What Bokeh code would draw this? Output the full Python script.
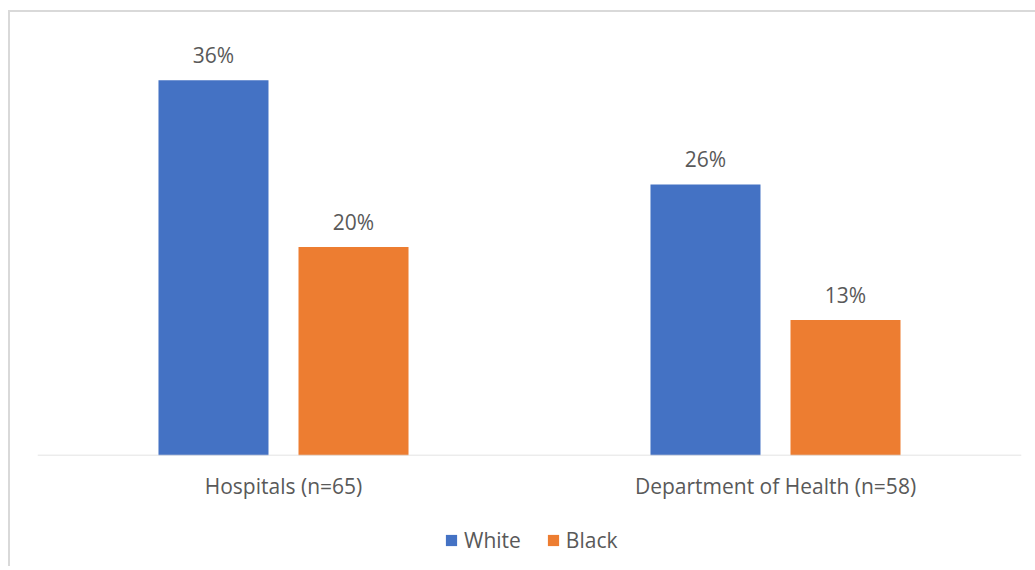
from bokeh.plotting import figure
from bokeh.layouts import column
from bokeh.models import (ColumnDataSource, FactorRange, Range1d, Legend,
                          LegendItem, Span)
from bokeh.transform import dodge
from bokeh.embed import file_html
from bokeh.resources import INLINE
from bokeh.core.properties import value

# Share of respondents by group
categories = ["Hospitals (n=65)", "Department of Health (n=58)"]
white = [36, 26]
black = [20, 13]
series_names = ["White", "Black"]
colors = ["#4472C4", "#ED7D31"]

FONT = "Open Sans"
TEXT_COLOR = "#595959"
GRID_GRAY = "#D9D9D9"
FS = "21px"

src = ColumnDataSource(dict(
    cat=categories,
    white=white,
    black=black,
    white_lbl=[f"{v}%" for v in white],
    black_lbl=[f"{v}%" for v in black],
))

p = figure(width=1025, height=500,
           x_range=FactorRange(*categories, range_padding=0),
           y_range=Range1d(0, 40),
           output_backend="svg", toolbar_location=None,
           min_border_left=27, min_border_right=14,
           min_border_top=26, min_border_bottom=57)

p.outline_line_color = None
p.grid.visible = False
p.yaxis.visible = False

bar_w = 0.2236
off = 0.1423

r_white = p.vbar(x=dodge("cat", -off, range=p.x_range), top="white", width=bar_w,
                 source=src, fill_color=colors[0], line_color=None)
r_black = p.vbar(x=dodge("cat", off, range=p.x_range), top="black", width=bar_w,
                 source=src, fill_color=colors[1], line_color=None)

for key, o in (("white", -off), ("black", off)):
    p.text(x=dodge("cat", o, range=p.x_range), y=key, text=f"{key}_lbl", source=src,
           text_align="center", text_baseline="alphabetic", y_offset=-25,
           text_font=value(FONT), text_font_size=FS, text_color=TEXT_COLOR)

# category baseline, limited to the plotting area
p.add_layout(Span(location=0, dimension="width", line_color=GRID_GRAY,
                  line_width=1.5))

ax = p.xaxis[0]
ax.axis_line_color = None
ax.major_tick_line_color = None
ax.minor_tick_line_color = None
ax.major_label_text_font = FONT
ax.major_label_text_font_size = FS
ax.major_label_text_color = TEXT_COLOR
ax.major_label_standoff = 10

# legend strip underneath the bars; its swatch renderers sit outside the view
lg = figure(width=1025, height=54, output_backend="svg", toolbar_location=None,
            x_range=Range1d(0, 1), y_range=Range1d(0, 1),
            min_border=0)
lg.axis.visible = False
lg.grid.visible = False
lg.outline_line_color = None
swatch = ColumnDataSource(dict(x=[-10], top=[-10]))
s_white = lg.vbar(x="x", top="top", bottom=-11, width=0.1, source=swatch,
                  fill_color=colors[0], line_color=None)
s_black = lg.vbar(x="x", top="top", bottom=-11, width=0.1, source=swatch,
                  fill_color=colors[1], line_color=None)

legend = Legend(items=[LegendItem(label=series_names[0], renderers=[s_white]),
                       LegendItem(label=series_names[1], renderers=[s_black])],
                orientation="horizontal", location=(407, 12),
                glyph_width=14, glyph_height=14, label_standoff=6, spacing=25,
                label_height=20, padding=0, margin=0, border_line_color=None,
                background_fill_alpha=0,
                label_text_font=FONT, label_text_font_size=FS,
                label_text_color=TEXT_COLOR)
lg.add_layout(legend)

layout = column(p, lg, spacing=0, margin=(10, 0, 0, 8),
                styles={"border-left": f"2px solid {GRID_GRAY}",
                        "border-top": f"2px solid {GRID_GRAY}"})

open("out.html", "w").write(file_html(layout, INLINE))
